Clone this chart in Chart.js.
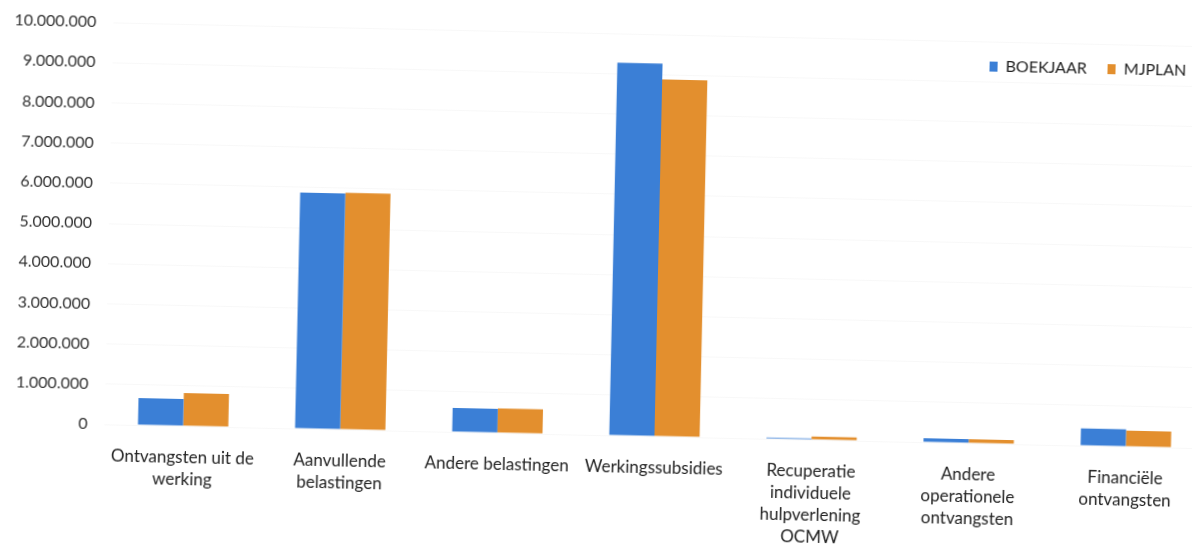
<!DOCTYPE html>
<html>
<head>
<meta charset="utf-8">
<script src="https://cdn.jsdelivr.net/npm/chart.js@4.4.1/dist/chart.umd.min.js"></script>
<style>
  body { margin: 0; background: #fff; overflow: hidden; }
  /* the reference is a slightly skewed scan, so the whole chart is turned a bit */
  #wrap {
    position: absolute; left: 0; top: 0; width: 1212px; height: 545px;
    transform: rotate(1.25deg); transform-origin: 596px 272px;
  }
  #legend {
    position: absolute; top: 47px; left: 985px;
    font-family: Lato, "Open Sans", sans-serif; font-size: 16px; color: #222;
    display: flex; gap: 21px; align-items: center;
  }
  #legend span.box { display: inline-block; width: 8px; height: 10px; margin-right: 8px; vertical-align: 0px; }
</style>
</head>
<body>
<div id="wrap">
  <canvas id="myChart"></canvas>
  <div id="legend"></div>
</div>
<script>
// categories and values
const categories = [
    ['Ontvangsten uit de', 'werking'],
    ['Aanvullende', 'belastingen'],
    'Andere belastingen',
    'Werkingssubsidies',
    ['Recuperatie', 'individuele', 'hulpverlening', 'OCMW'],
    ['Andere', 'operationele', 'ontvangsten'],
    ['Financiële', 'ontvangsten']
];
const boekjaar = [670000, 5870000, 600000, 9270000, 30000, 100000, 430000];
const mjplan   = [820000, 5890000, 610000, 8880000, 80000, 100000, 400000];
const seriesNames = ['BOEKJAAR', 'MJPLAN'];
const seriesColors = ['#3b7fd6', '#e38f2e'];

// 10000000 -> 10.000.000
function dots(v) {
    return String(v).replace(/\B(?=(\d{3})+(?!\d))/g, '.');
}

const ctx = document.getElementById('myChart');
const myChart = new Chart(ctx, {
    type: 'bar',
    data: {
        labels: categories,
        datasets: [
            { label: seriesNames[0], data: boekjaar, backgroundColor: seriesColors[0] },
            { label: seriesNames[1], data: mjplan, backgroundColor: seriesColors[1] }
        ]
    },
    options: {
        responsive: true,
        maintainAspectRatio: false,
        animation: false,
        layout: { padding: { top: 33, right: 4, left: 0, bottom: 0 } },
        datasets: { bar: { categoryPercentage: 0.575, barPercentage: 1.0 } },
        plugins: {
            legend: { display: false },
            tooltip: { enabled: false }
        },
        scales: {
            x: {
                grid: { display: false },
                border: { display: false },
                ticks: {
                    color: '#222',
                    padding: 12,
                    maxRotation: 0,
                    autoSkip: false,
                    font: { family: 'Lato, "Open Sans", sans-serif', size: 17, lineHeight: 1.3 }
                },
                afterFit(scale) { scale.height = 110; }
            },
            y: {
                min: 0,
                max: 10000000,
                grid: { color: '#f8f8f8', drawTicks: false },
                border: { display: false },
                ticks: {
                    stepSize: 1000000,
                    color: '#333',
                    padding: 17,
                    font: { family: 'Lato, "Open Sans", sans-serif', size: 16 },
                    callback: (v) => dots(v)
                },
                afterFit(scale) { scale.width = 108; }
            }
        }
    }
});

// html legend in the top right corner, like the original
const legend = document.getElementById('legend');
seriesNames.forEach((name, i) => {
    const item = document.createElement('div');
    item.innerHTML = '<span class="box" style="background:' + seriesColors[i] + '"></span>' + name;
    legend.appendChild(item);
});
</script>
</body>
</html>
